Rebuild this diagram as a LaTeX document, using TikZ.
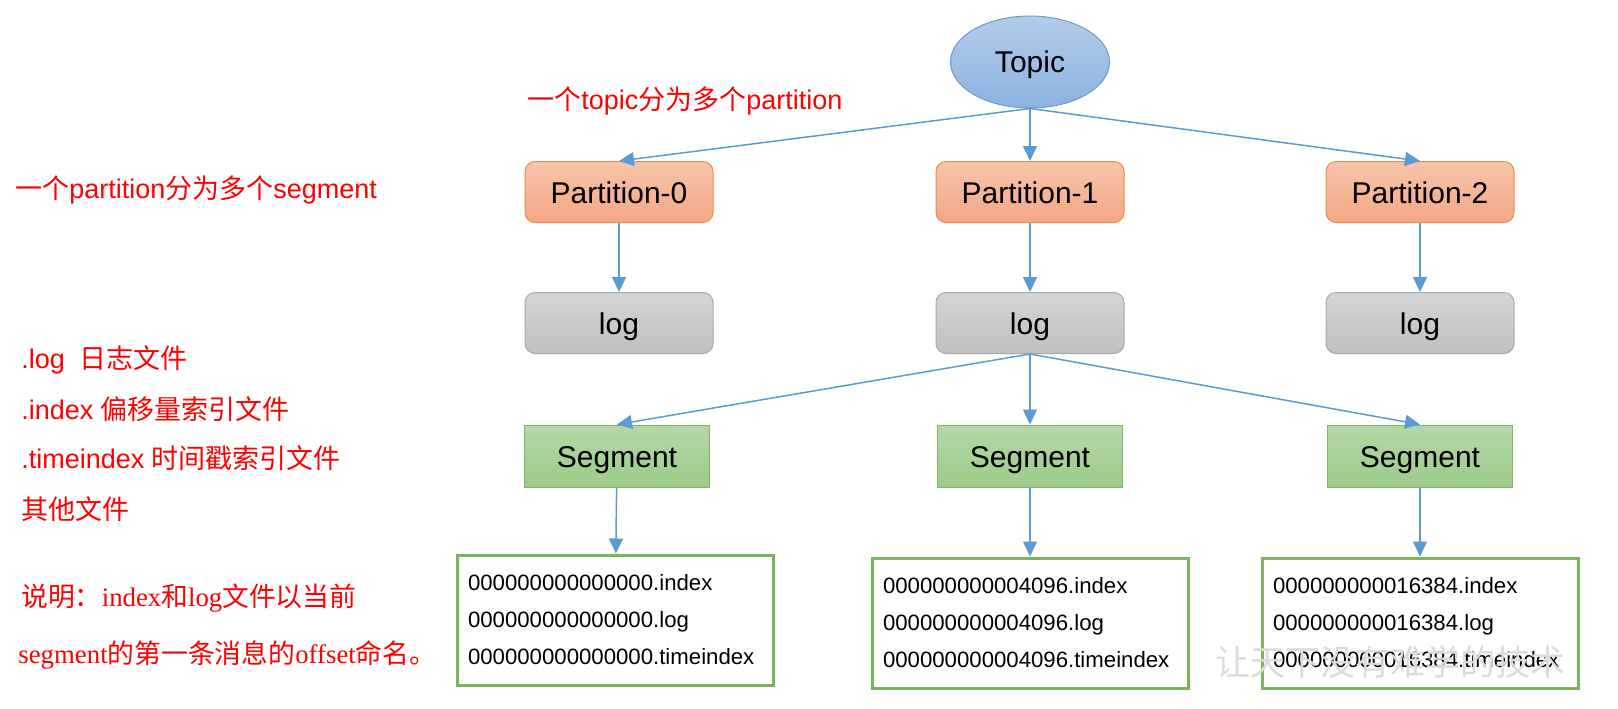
\documentclass[tikz,border=0pt]{standalone}
\usepackage{fontspec}
\setmainfont{Liberation Sans}
\newfontfamily\cjk{Noto Sans CJK SC}
\newfontfamily\tms{Liberation Serif}
\usetikzlibrary{arrows.meta,shapes.geometric}
\definecolor{topicTop}{HTML}{B3CBEA}
\definecolor{topicBot}{HTML}{8CB2E0}
\definecolor{topicLine}{HTML}{6C9BD2}
\definecolor{partTop}{HTML}{F7C4AA}
\definecolor{partBot}{HTML}{F3A784}
\definecolor{partLine}{HTML}{EE8A4E}
\definecolor{logTop}{HTML}{D5D5D5}
\definecolor{logBot}{HTML}{BFBFBF}
\definecolor{logLine}{HTML}{A8A8A8}
\definecolor{segTop}{HTML}{B5D7A8}
\definecolor{segBot}{HTML}{9CCB88}
\definecolor{segLine}{HTML}{82B366}
\definecolor{fileLine}{HTML}{7AB55C}
\definecolor{arrowBlue}{HTML}{5B9BD5}
\definecolor{noteRed}{HTML}{FF0000}

\begin{document}
\begin{tikzpicture}[x=0.5pt,y=-0.5pt,
    nodebox/.style={rounded corners=5pt,line width=0.5pt,minimum width=94pt,minimum height=30.5pt,
                    text height=11.6pt,text depth=0pt,font=\fontsize{15}{18}\selectfont},
    partbox/.style={nodebox,draw=partLine,top color=partTop,bottom color=partBot},
    logbox/.style={nodebox,draw=logLine,top color=logTop,bottom color=logBot},
    segbox/.style={nodebox,rounded corners=0pt,minimum width=92.5pt,minimum height=31pt,draw=segLine,top color=segTop,bottom color=segBot},
    filebox/.style={draw=fileLine,line width=1.5pt,fill=white,text width=147pt,inner xsep=5.5pt,minimum height=65pt,align=left,font=\fontsize{11.1}{18.5}\selectfont},
    note/.style={anchor=west,inner sep=0pt,text=noteRed,font=\fontsize{13.5}{16}\selectfont},
    serifnote/.style={note,font=\tms\fontsize{13.4}{16}\selectfont},
    arr/.style={-{Triangle[length=7.5pt,width=7pt]},arrowBlue,line width=0.75pt}]
    \useasboundingbox (0,0) rectangle (1618,708);

    \node[ellipse,draw=topicLine,line width=0.5pt,top color=topicTop,bottom color=topicBot,
          minimum width=79.5pt,minimum height=46pt,inner sep=0pt,text height=10.6pt,text depth=0pt,
          font=\fontsize{15}{18}\selectfont] (topic) at (1030,62) {Topic};

    \node[partbox] (part0) at (619,192) {Partition-0};
    \node[partbox] (part1) at (1030,192) {Partition-1};
    \node[partbox] (part2) at (1420,192) {Partition-2};

    \node[logbox] (log0) at (619,323) {log};
    \node[logbox] (log1) at (1030,323) {log};
    \node[logbox] (log2) at (1420,323) {log};

    \node[segbox] (seg0) at (617,456) {Segment};
    \node[segbox] (seg1) at (1030,456) {Segment};
    \node[segbox] (seg2) at (1420,456) {Segment};

    \node[filebox] (files0) at (615,620) {000000000000000.index\\000000000000000.log\\000000000000000.timeindex};
    \node[filebox] (files1) at (1030,623) {000000000004096.index\\000000000004096.log\\000000000004096.timeindex};
    \node[filebox] (files2) at (1420,623) {000000000016384.index\\000000000016384.log\\000000000016384.timeindex};

    % red notes
    \node[note] (topicnote) at (527,101) {{\cjk 一个}topic{\cjk 分为多个}partition};
    \node[note] (partnote) at (15,190) {{\cjk 一个}partition{\cjk 分为多个}segment};
    \node[note] (extlog) at (21,360) {.log~~{\cjk 日志文件}};
    \node[note] (extindex) at (21,409) {.index {\cjk 偏移量索引文件}};
    \node[note] (exttime) at (21,458) {.timeindex {\cjk 时间戳索引文件}};
    \node[note] (extother) at (21,509) {{\cjk 其他文件}};
    \node[serifnote] (explain1) at (21,598) {{\cjk 说明：}index{\cjk 和}log{\cjk 文件以当前}};
    \node[serifnote] (explain2) at (18,655) {segment{\cjk 的第一条消息的}offset{\cjk 命名。}};

    \path[arr]
    (topic.south) edge (part0.north)
    (topic.south) edge (part1.north)
    (topic.south) edge (part2.north)
    (part0) edge (log0)
    (part1) edge (log1)
    (part2) edge (log2)
    (log1.south) edge (seg0.north)
    (log1.south) edge (seg1.north)
    (log1.south) edge (seg2.north)
    (seg0) edge (files0)
    (seg1) edge (files1)
    (seg2) edge (files2);

    \node[text=black!14,font=\cjk\fontsize{17.5}{20}\selectfont] (mark) at (1390,662) {让天下没有难学的技术};
\end{tikzpicture}
\end{document}
